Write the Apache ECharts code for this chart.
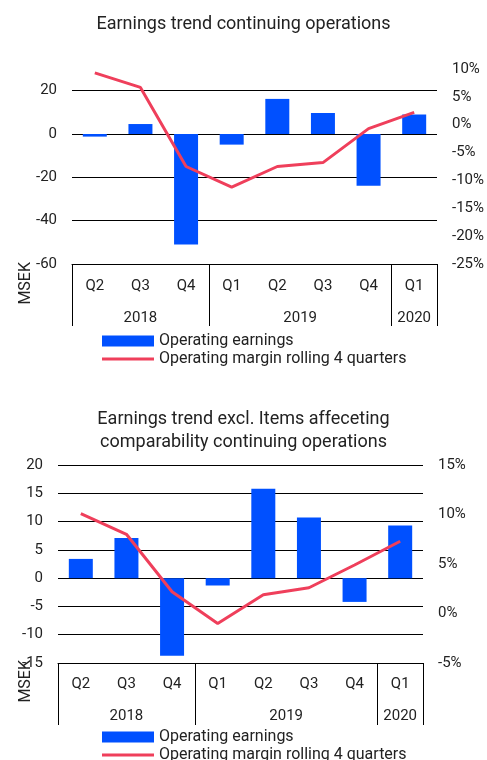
<!DOCTYPE html>
<html>
<head>
<meta charset="utf-8">
<style>
  html, body { margin: 0; padding: 0; background: #fff; }
  #container { width: 487px; height: 760px; }
</style>
<script src="https://cdn.jsdelivr.net/npm/echarts@6/dist/echarts.min.js"></script>
</head>
<body>
<div id="container"></div>
<script>
// categories
var quarters = ['Q2', 'Q3', 'Q4', 'Q1', 'Q2', 'Q3', 'Q4', 'Q1'];
var years = ['2018', '2019', '2020'];
var yearSpans = [3, 4, 1];

// chart 1 - continuing operations
var earnings1 = [-1.2, 4.6, -51, -4.9, 16.2, 9.7, -23.9, 9.0];
var margin1 = [9.3, 6.7, -7.5, -11.2, -7.5, -6.8, -0.7, 2.2];

// chart 2 - excl. items affecting comparability
var earnings2 = [3.4, 7.1, -13.7, -1.3, 15.8, 10.7, -4.2, 9.3];
var margin2 = [10.1, 8.0, 2.2, -1.0, 1.9, 2.6, 4.9, 7.3];

var BLUE = '#0050ff';
var RED = '#ef3f5b';
var TXT = '#222';
var FONT = 'Roboto';

// year row: half-quarter slots, boundaryGap false so slot points sit on edges
var yearSlots = [];
var yearEdges = [0];
for (var k = 0; k <= quarters.length * 2; k++) yearSlots.push('');
yearSpans.forEach(function (s, i) {
  var b = yearEdges[yearEdges.length - 1];
  yearSlots[b + s] = years[i];          // middle of the span, in half-quarters
  yearEdges.push(b + s * 2);
});

function quarterAxis(grid, margin) {
  return {
    type: 'category', gridIndex: grid, data: quarters, position: 'bottom',
    axisLine: { show: true, onZero: false, lineStyle: { color: '#000', width: 1 } },
    axisTick: { show: false },
    axisLabel: { margin: margin, fontSize: 15, color: TXT, fontFamily: FONT },
    splitLine: { show: false }
  };
}
function yearAxis(grid, margin) {
  return {
    type: 'category', gridIndex: grid, data: yearSlots, boundaryGap: false, position: 'bottom',
    axisLine: { show: false, onZero: false },
    axisTick: { show: true, length: 62, inside: false,
      interval: function (idx) { return yearEdges.indexOf(idx) > -1; },
      lineStyle: { color: '#000', width: 1 } },
    axisLabel: { interval: 0, margin: margin, fontSize: 15, color: TXT, fontFamily: FONT },
    splitLine: { show: false }
  };
}
function leftAxis(grid, min, max, interval, showMaxLine, showMaxLabel) {
  return {
    type: 'value', gridIndex: grid, min: min, max: max, interval: interval, position: 'left',
    axisLine: { show: false, onZero: false }, axisTick: { show: false },
    axisLabel: { margin: 15, fontSize: 15, color: TXT, fontFamily: FONT, showMaxLabel: showMaxLabel },
    splitLine: { show: true, showMinLine: false, showMaxLine: showMaxLine,
      lineStyle: { color: '#000', width: 1 } }
  };
}
function rightAxis(grid, min, max) {
  return {
    type: 'value', gridIndex: grid, min: min, max: max, interval: 5, position: 'right',
    axisLine: { show: false, onZero: false }, axisTick: { show: false }, splitLine: { show: false },
    axisLabel: { margin: 15, fontSize: 15, color: TXT, fontFamily: FONT, formatter: '{value}%' }
  };
}
function legendFor(top) {
  return {
    left: 97, top: top, height: 60, orient: 'vertical', itemWidth: 52, itemHeight: 11, itemGap: 2,
    textStyle: { fontSize: 16, color: TXT, fontFamily: FONT },
    data: [
      { name: 'Operating earnings', icon: 'rect' },
      { name: 'Operating margin rolling 4 quarters', icon: 'path://M0,0L52,0L52,3L0,3Z' }
    ]
  };
}

var chart = echarts.init(document.getElementById('container'), null, { renderer: 'canvas' });
var option = {
  backgroundColor: '#fff',
  animation: false,
  textStyle: { fontFamily: FONT },
  title: [
    { text: 'Earnings trend continuing operations', left: 'center', top: 10,
      textStyle: { fontSize: 18, fontWeight: 'normal', color: TXT, fontFamily: FONT } },
    { text: 'Earnings trend excl. Items affeceting\ncomparability continuing operations',
      left: 'center', top: 403,
      textStyle: { fontSize: 18, fontWeight: 'normal', color: TXT, fontFamily: FONT, lineHeight: 23, align: 'center' } }
  ],
  grid: [
    { left: 72, right: 50, top: 69, bottom: 496 },
    { left: 58, right: 64, top: 465, bottom: 97 }
  ],
  xAxis: [quarterAxis(0, 15), yearAxis(0, 47), quarterAxis(1, 14), yearAxis(1, 46)],
  yAxis: [
    leftAxis(0, -60, 30, 20, false, false),
    rightAxis(0, -25, 10),
    leftAxis(1, -15, 20, 5, true, true),
    rightAxis(1, -5, 15)
  ],
  legend: [legendFor(328), legendFor(724)],
  graphic: [
    { type: 'text', left: 18, top: 262, rotation: Math.PI / 2,
      style: { text: 'MSEK', fontSize: 16, fill: TXT, fontFamily: FONT } },
    { type: 'text', left: 18, top: 660, rotation: Math.PI / 2,
      style: { text: 'MSEK', fontSize: 16, fill: TXT, fontFamily: FONT } }
  ],
  series: [
    { name: 'Operating earnings', type: 'bar', xAxisIndex: 0, yAxisIndex: 0,
      data: earnings1, barWidth: 24, itemStyle: { color: BLUE } },
    { name: 'Operating margin rolling 4 quarters', type: 'line', xAxisIndex: 0, yAxisIndex: 1,
      data: margin1, symbol: 'none', z: 5, lineStyle: { color: RED, width: 3 }, itemStyle: { color: RED } },
    { name: 'Operating earnings', type: 'bar', xAxisIndex: 2, yAxisIndex: 2,
      data: earnings2, barWidth: 24, itemStyle: { color: BLUE } },
    { name: 'Operating margin rolling 4 quarters', type: 'line', xAxisIndex: 2, yAxisIndex: 3,
      data: margin2, symbol: 'none', z: 5, lineStyle: { color: RED, width: 3 }, itemStyle: { color: RED } }
  ]
};
chart.setOption(option);
</script>
</body>
</html>
